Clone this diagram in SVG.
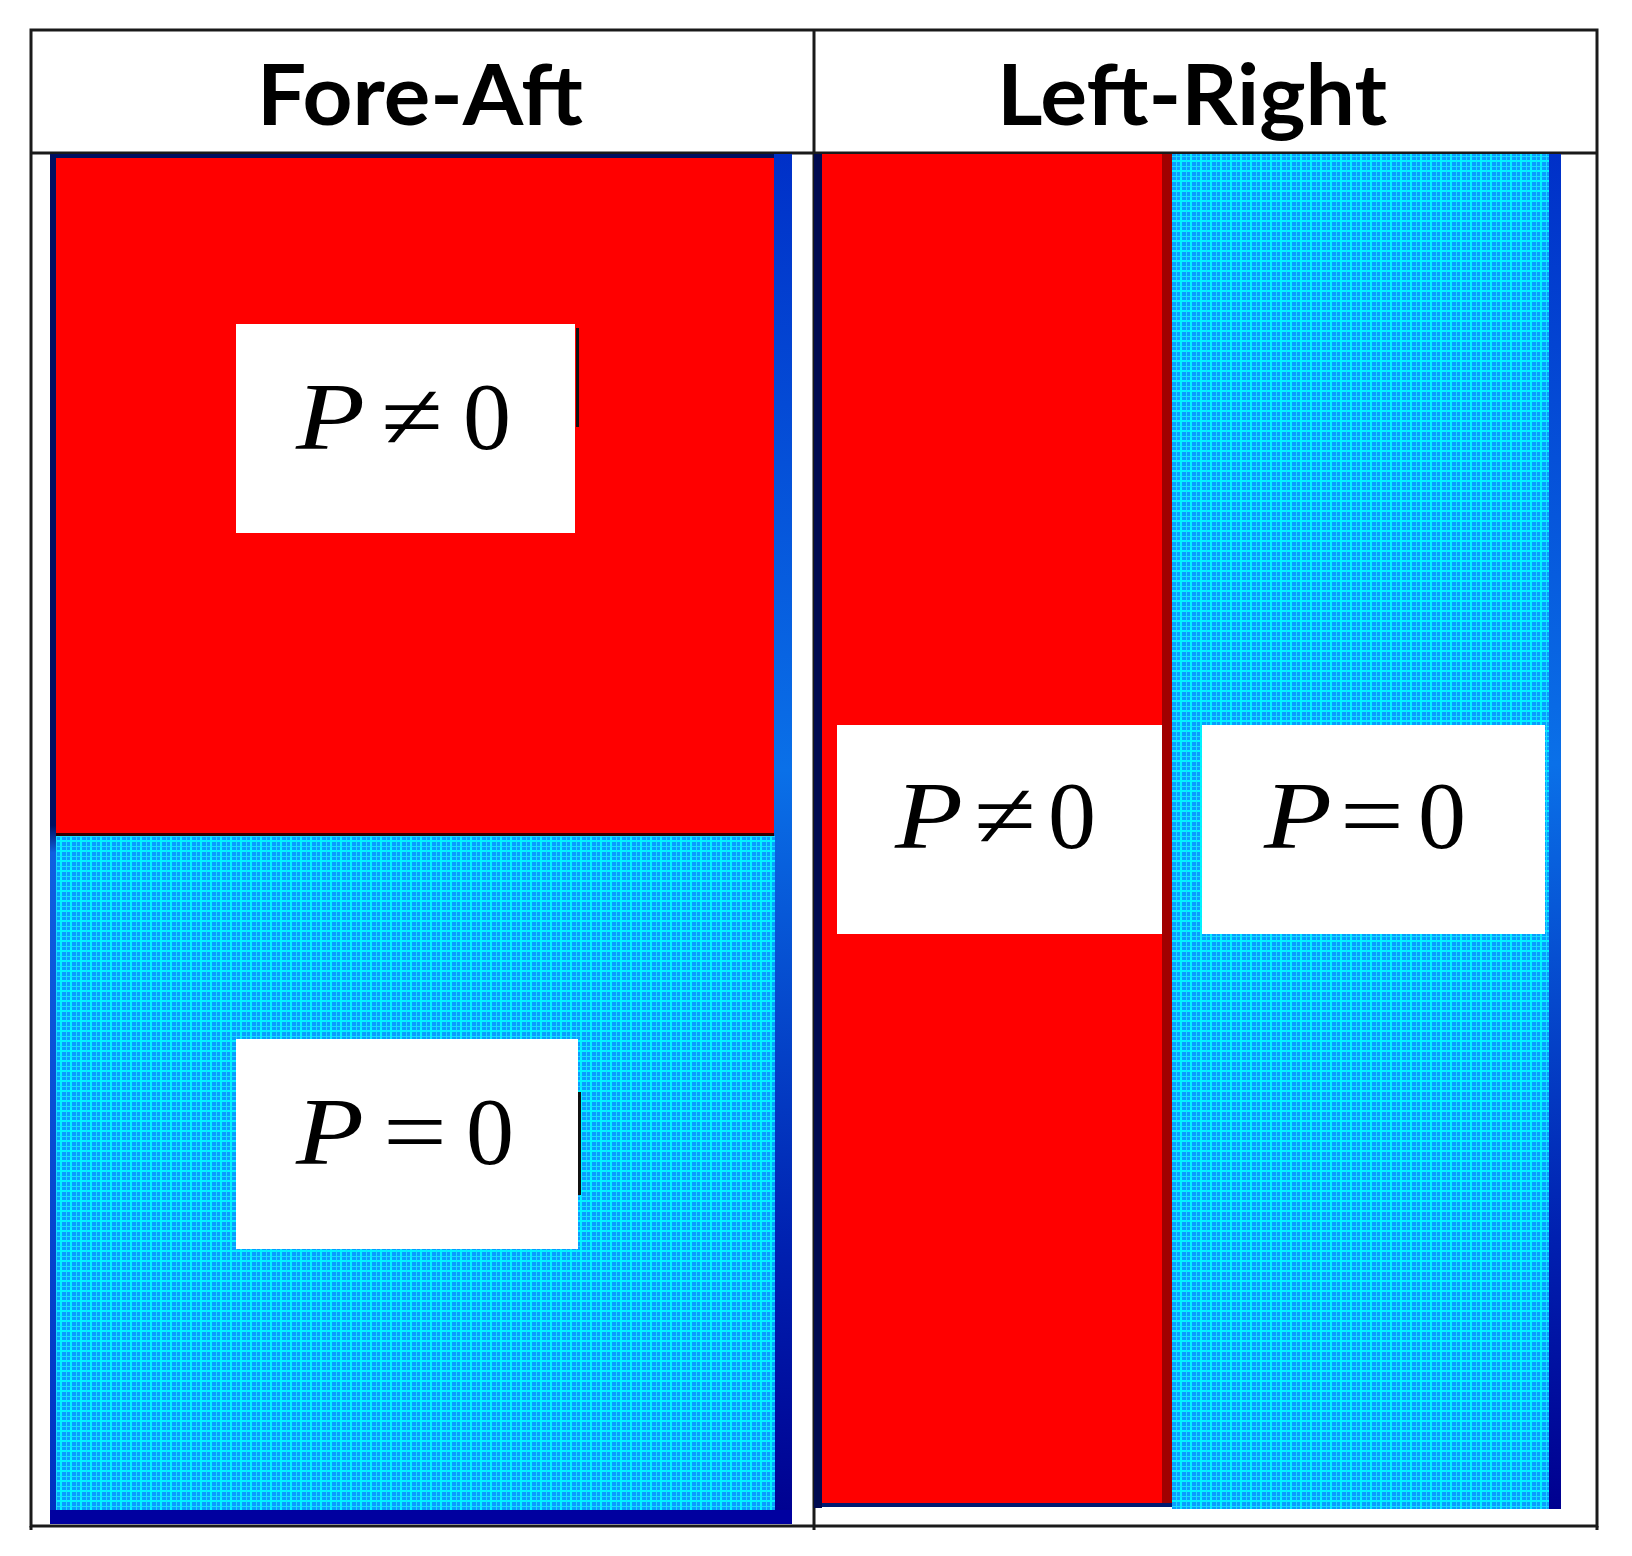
<svg xmlns="http://www.w3.org/2000/svg" width="1632" height="1556" viewBox="0 0 1632 1556">
<style>
.hdr{font-family:Lato,"Open Sans","Liberation Sans",sans-serif;font-weight:bold;font-size:84px;fill:#000;text-anchor:middle}
.math{font-family:"Liberation Serif","DejaVu Serif",serif;font-size:96px;fill:#000}
.it{font-style:italic}
.box{fill:#fff}
.tbl{stroke:#1a1a1a;stroke-width:3;fill:none}
.red{fill:#ff0000}
</style>
<defs>
<pattern id="grid" width="10" height="10" patternUnits="userSpaceOnUse">
<rect width="10" height="10" fill="#0a9cff"/>
<rect x="0" y="0" width="10" height="2" fill="#00f4ff"/>
<rect x="0" y="0" width="2" height="10" fill="#00f4ff"/>
<rect x="6" y="0" width="1" height="10" fill="#18dcff"/>
<rect x="0" y="6" width="10" height="1" fill="#18dcff"/>
</pattern>
<linearGradient id="stripL" x1="0" y1="0" x2="0" y2="1">
<stop offset="0" stop-color="#0030c8"/>
<stop offset="0.45" stop-color="#0a70e8"/>
<stop offset="0.8" stop-color="#0020b0"/>
<stop offset="1" stop-color="#000090"/>
</linearGradient>
<linearGradient id="edgeL" x1="0" y1="0" x2="0" y2="1">
<stop offset="0" stop-color="#001060"/>
<stop offset="0.49" stop-color="#001060"/>
<stop offset="0.51" stop-color="#1060e0"/>
<stop offset="1" stop-color="#0030c0"/>
</linearGradient>
</defs>
<rect width="1632" height="1556" fill="#fff"/>

<g id="table">
<rect class="tbl" x="31" y="30" width="1566" height="1496"/>
<line class="tbl" x1="31" y1="153" x2="1597" y2="153"/>
<line class="tbl" x1="814" y1="30" x2="814" y2="1530"/>
<line class="tbl" x1="31" y1="1526" x2="31" y2="1530"/>
<line class="tbl" x1="1597" y1="1526" x2="1597" y2="1530"/>
</g>

<g id="header-fore-aft">
<text class="hdr" x="420" y="125" textLength="326" lengthAdjust="spacingAndGlyphs">Fore-Aft</text>
</g>
<g id="header-left-right">
<text class="hdr" x="1192" y="125" textLength="390" lengthAdjust="spacingAndGlyphs">Left-Right</text>
</g>

<g id="panel-fore-aft">
<rect x="50" y="154" width="742" height="1370" fill="#001060"/>
<rect x="50" y="154" width="6" height="1370" fill="url(#edgeL)"/>
<rect x="774" y="154" width="18" height="1370" fill="url(#stripL)"/>
<rect x="50" y="1510" width="742" height="14" fill="#0000a0"/>
<rect class="red" x="56" y="158" width="718" height="675"/>
<rect x="56" y="833" width="718" height="3" fill="#300000"/>
<rect x="56" y="836" width="719" height="674" fill="url(#grid)"/>
</g>

<g id="box-fa-top">
<rect class="box" x="236" y="324" width="339" height="209"/>
<rect x="576" y="328" width="3" height="99" fill="#111"/>
<text class="math it" x="296" y="449" textLength="69" lengthAdjust="spacingAndGlyphs">P</text>
<text class="math" x="381" y="449" textLength="62" lengthAdjust="spacingAndGlyphs">≠</text>
<text class="math" x="463" y="449">0</text>
</g>

<g id="box-fa-bottom">
<rect class="box" x="236" y="1039" width="342" height="210"/>
<rect x="578" y="1092" width="3" height="103" fill="#111"/>
<text class="math it" x="296" y="1164" textLength="68" lengthAdjust="spacingAndGlyphs">P</text>
<text class="math" x="383" y="1164" textLength="64" lengthAdjust="spacingAndGlyphs">=</text>
<text class="math" x="466" y="1164">0</text>
</g>

<g id="panel-left-right">
<rect x="814" y="154" width="8" height="1354" fill="#000a50"/>
<rect class="red" x="822" y="154" width="340" height="1349"/>
<rect x="1162" y="154" width="10" height="1349" fill="#a00000"/>
<rect x="822" y="1503" width="350" height="4" fill="#001a70"/>
<rect x="1172" y="154" width="377" height="1355" fill="url(#grid)"/>
<rect x="1549" y="154" width="12" height="1355" fill="url(#stripL)"/>
</g>

<g id="box-lr-left">
<rect class="box" x="837" y="725" width="325" height="209"/>
<text class="math it" x="895" y="848" textLength="68" lengthAdjust="spacingAndGlyphs">P</text>
<text class="math" x="974" y="848" textLength="62" lengthAdjust="spacingAndGlyphs">≠</text>
<text class="math" x="1048" y="848">0</text>
</g>

<g id="box-lr-right">
<rect class="box" x="1202" y="725" width="343" height="209"/>
<text class="math it" x="1264" y="848" textLength="68" lengthAdjust="spacingAndGlyphs">P</text>
<text class="math" x="1340" y="848" textLength="64" lengthAdjust="spacingAndGlyphs">=</text>
<text class="math" x="1418" y="848">0</text>
</g>
</svg>
